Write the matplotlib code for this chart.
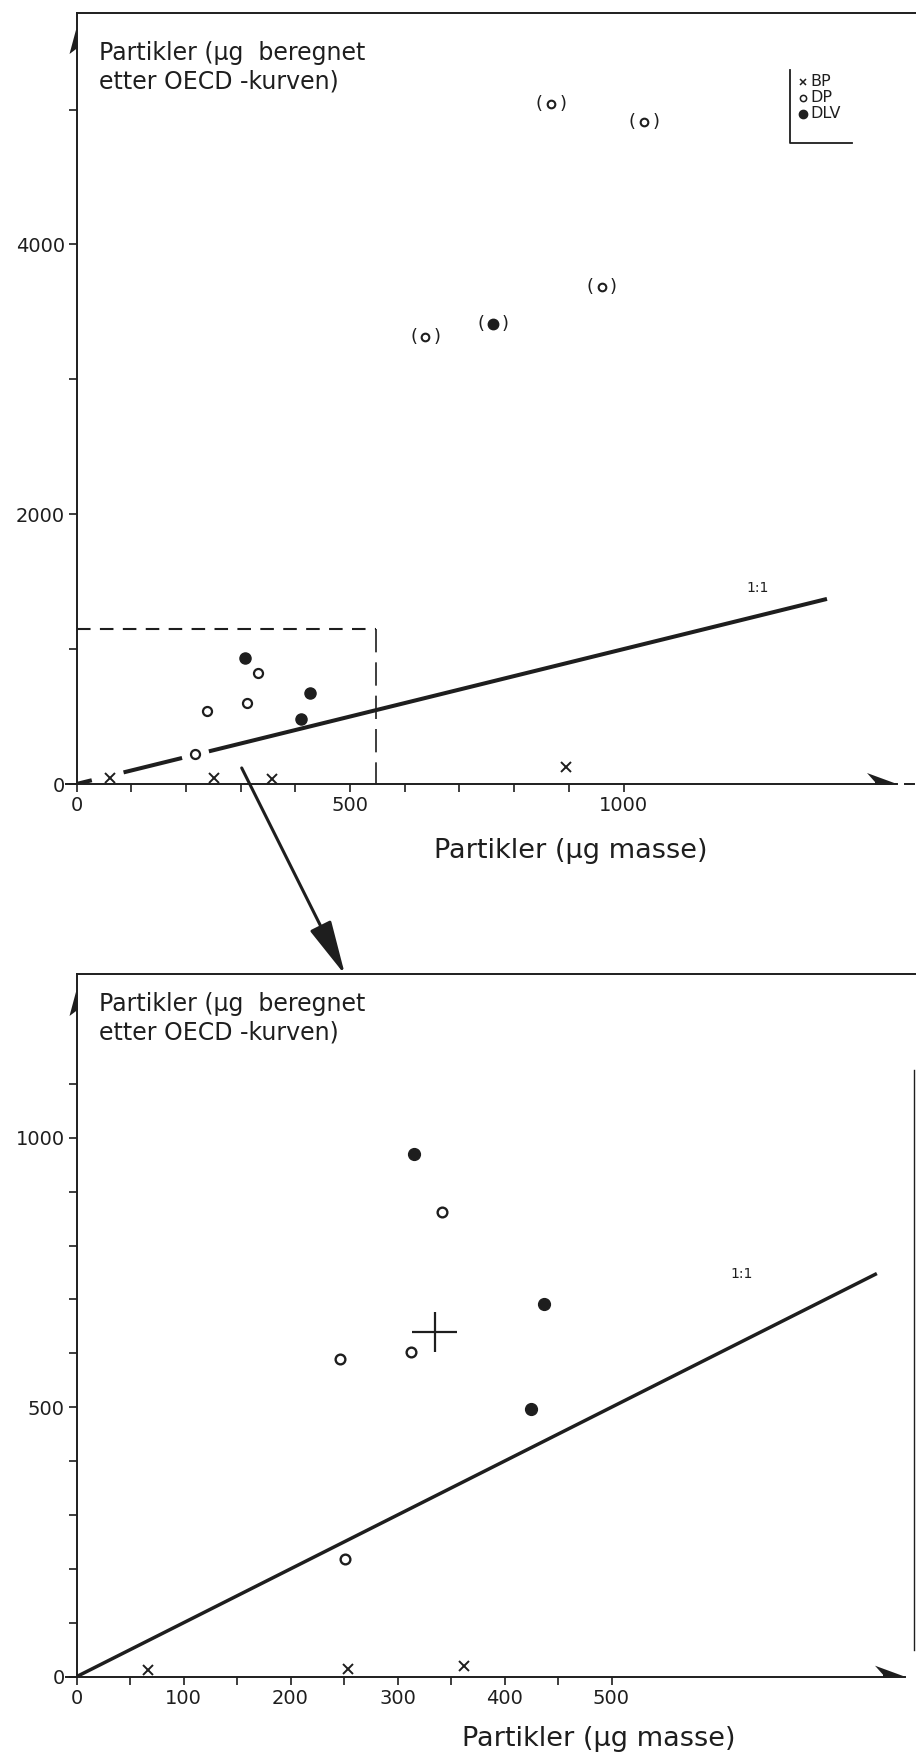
import matplotlib
matplotlib.use("Agg")
import matplotlib.pyplot as plt
from matplotlib.patches import Polygon, ConnectionPatch, ArrowStyle

W, H, DPI = 916, 1762, 100
INK = "#1e1e1e"

plt.rcParams["font.family"] = ["DejaVu Sans"]

# ---------------- overview panel (µg) ----------------
bp_mass_all = [62, 252, 358, 895]
bp_oecd_all = [42, 42, 40, 126]
dp_mass_all = [216, 239, 312, 331]
dp_oecd_all = [222, 543, 598, 825]
dlv_mass_all = [308, 411, 427]
dlv_oecd_all = [936, 480, 672]
# uncertain determinations, plotted in parentheses
dp_mass_unc = [638, 868, 960, 1038]
dp_oecd_unc = [3314, 5041, 3684, 4907]
dlv_mass_unc = [761]
dlv_oecd_unc = [3410]
# 1:1 reference line, broken where it passes the markers
ref_segments_all = [(0, 28), (86, 193), (242, 1372)]
# extent of the enlarged region
detail_mass_max, detail_oecd_max = 548, 1149

# ---------------- detail panel (µg) ----------------
bp_mass = [67, 254, 362]
bp_oecd = [12, 15, 19]
dp_mass = [246, 251, 313, 342]
dp_oecd = [589, 218, 603, 863]
dlv_mass = [315, 425, 437]
dlv_oecd = [969, 496, 691]
mean_mass, mean_oecd = 335, 639
mean_dmass, mean_doecd = 21, 37
ref_end = 748

# axis ticks
top_xmajor = [0, 500, 1000]
top_xminor = [100, 200, 300, 400, 600, 700, 800, 900]
top_ymajor = [0, 2000, 4000]
top_yminor = [1000, 3000, 5000]
bot_xmajor = [0, 100, 200, 300, 400, 500]
bot_xminor = [50, 150, 250, 350, 450]
bot_ymajor = [0, 500, 1000]
bot_yminor = [100, 200, 300, 400, 600, 700, 800, 900, 1100]

ylabel_text = "Partikler (µg  beregnet\netter OECD -kurven)"
xlabel_text = "Partikler (µg masse)"

fig = plt.figure(figsize=(W / DPI, H / DPI), dpi=DPI)
fig.patch.set_facecolor("white")

x0 = 76.5
ax1 = fig.add_axes([x0 / W, (H - 784) / H, (W - x0) / W, (784 - 13) / H])
ax2 = fig.add_axes([x0 / W, (H - 1676.7) / H, (W - x0) / W, (1676.7 - 974) / H])
ax1.set_xlim(0, (W - x0) / 0.547)
ax1.set_ylim(0, (784 - 13) / 0.1349)
ax2.set_xlim(0, (W - x0) / 1.07)
ax2.set_ylim(0, (1676.7 - 974) / 0.539)

for ax in (ax1, ax2):
    ax.patch.set_alpha(0)
    ax.spines["right"].set_visible(False)
    for s in ("left", "top", "bottom"):
        ax.spines[s].set_color(INK)
        ax.spines[s].set_linewidth(1.4)
    ax.tick_params(which="both", direction="out", length=5.5, width=1.2,
                   color=INK, labelcolor=INK, labelsize=14)
    ax.tick_params(axis="x", pad=3)
    ax.tick_params(axis="y", pad=3)

ax1.set_xticks(top_xmajor)
ax1.set_xticks(top_xminor, minor=True)
ax1.set_yticks(top_ymajor)
ax1.set_yticks(top_yminor, minor=True)
ax2.set_xticks(bot_xmajor)
ax2.set_xticks(bot_xminor, minor=True)
ax2.set_yticks(bot_ymajor)
ax2.set_yticks(bot_yminor, minor=True)

# x axes end in an arrow
ax1.spines["bottom"].set_bounds(-20, (897 - x0) / 0.547)
ax2.spines["bottom"].set_bounds(-10, (905 - x0) / 1.07)

# ---- overview panel ----
for a, b in ref_segments_all:
    ax1.plot([a, b], [a, b], color=INK, lw=2.9, solid_capstyle="butt")
ax1.text(1245, 1450, "1:1", fontsize=10, color=INK, ha="center", va="center")

ax1.plot([0, detail_mass_max], [detail_oecd_max, detail_oecd_max],
         color=INK, lw=1.5, dashes=(6.5, 4.5))
ax1.plot([detail_mass_max, detail_mass_max], [detail_oecd_max, 0],
         color=INK, lw=1.2, dashes=(14, 6))

ax1.plot(bp_mass_all, bp_oecd_all, ls="none", marker="x", ms=6.5, mew=1.4, color=INK)
ax1.plot(dp_mass_all, dp_oecd_all, ls="none", marker="o", ms=6.5, mew=1.6,
         mfc="white", mec=INK)
ax1.plot(dlv_mass_all, dlv_oecd_all, ls="none", marker="o", ms=8, color=INK)

ax1.plot(dp_mass_unc, dp_oecd_unc, ls="none", marker="o", ms=5.5, mew=1.5,
         mfc="white", mec=INK)
ax1.plot(dlv_mass_unc, dlv_oecd_unc, ls="none", marker="o", ms=7.5, color=INK)
for xs, ys in ((dp_mass_unc, dp_oecd_unc), (dlv_mass_unc, dlv_oecd_unc)):
    for x, y in zip(xs, ys):
        for dx, s in ((-8.5, "("), (8.5, ")")):
            ax1.annotate(s, (x, y), xytext=(dx, 0), textcoords="offset points",
                         ha="center", va="center", fontsize=13, color=INK)

# ---- detail panel ----
ax2.plot([0, ref_end], [0, ref_end], color=INK, lw=2.5, solid_capstyle="butt")
ax2.text(622, 748, "1:1", fontsize=10, color=INK, ha="center", va="center")
ax2.plot(bp_mass, bp_oecd, ls="none", marker="x", ms=6.5, mew=1.4, color=INK)
ax2.plot(dp_mass, dp_oecd, ls="none", marker="o", ms=7, mew=1.7,
         mfc="white", mec=INK)
ax2.plot(dlv_mass, dlv_oecd, ls="none", marker="o", ms=8.5, color=INK)
ax2.errorbar([mean_mass], [mean_oecd], xerr=[mean_dmass], yerr=[mean_doecd],
             fmt="none", ecolor=INK, elinewidth=1.6, capsize=0)
ax2.plot([(914 - x0) / 1.07] * 2, [50, 1126], color=INK, lw=1.0)

# ---- decorations in pixel space ----
deco = fig.add_axes([0, 0, 1, 1], zorder=10)
deco.set_xlim(0, W)
deco.set_ylim(H, 0)
deco.axis("off")
deco.patch.set_alpha(0)


def to_px(ax, x, y):
    dx, dy = ax.transData.transform((x, y))
    return dx, H - dy


def x_arrow(ax, x_tip):
    tx, ty = to_px(ax, x_tip, 0)
    deco.add_patch(Polygon([(tx, ty), (tx - 30, ty - 11), (tx - 22, ty - 2),
                            (tx - 22, ty + 1)], closed=True, color=INK, lw=0))


def y_arrow(ax, y_top):
    tx, _ = to_px(ax, 0, ax.get_ylim()[1])
    deco.add_patch(Polygon([(tx, y_top), (tx - 7, y_top + 26), (tx + 1, y_top + 20)],
                           closed=True, color=INK, lw=0))


x_arrow(ax1, (897 - x0) / 0.547)
x_arrow(ax2, (905 - x0) / 1.07)
y_arrow(ax1, 28)
y_arrow(ax2, 990)
deco.plot([905, 914], [784, 784], color=INK, lw=1.4)

# axis titles
for ytop in (41, 992):
    deco.text(99, ytop, ylabel_text, fontsize=17, color=INK, ha="left", va="top",
              linespacing=1.22)
deco.text(571, 851, xlabel_text, fontsize=19.5, color=INK, ha="center", va="center")
deco.text(599, 1739, xlabel_text, fontsize=19.5, color=INK, ha="center", va="center")

# legend
deco.plot([790, 790, 852], [70, 143, 143], color=INK, lw=1.3)
legend_rows = [("BP", dict(marker="x", ms=4.5, mew=1.1, color=INK)),
               ("DP", dict(marker="o", ms=4.5, mew=1.1, mfc="white", mec=INK)),
               ("DLV", dict(marker="o", ms=6, color=INK))]
for i, (name, style) in enumerate(legend_rows):
    yy = 82 + i * 16
    deco.plot([803], [yy], ls="none", **style)
    deco.text(810, yy, name, fontsize=11.5, color=INK, ha="left", va="center")

# arrow from the enlarged region down to the detail panel
con = ConnectionPatch(xyA=(302, 119), coordsA=ax1.transData,
                      xyB=(251, 1302), coordsB=ax2.transData,
                      arrowstyle=ArrowStyle("-|>", head_length=2.8, head_width=0.6),
                      mutation_scale=12, lw=2.2, color=INK, shrinkA=0, shrinkB=0)
con.set_clip_on(False)
fig.add_artist(con)

fig.savefig("out.png", dpi=DPI, facecolor="white")
